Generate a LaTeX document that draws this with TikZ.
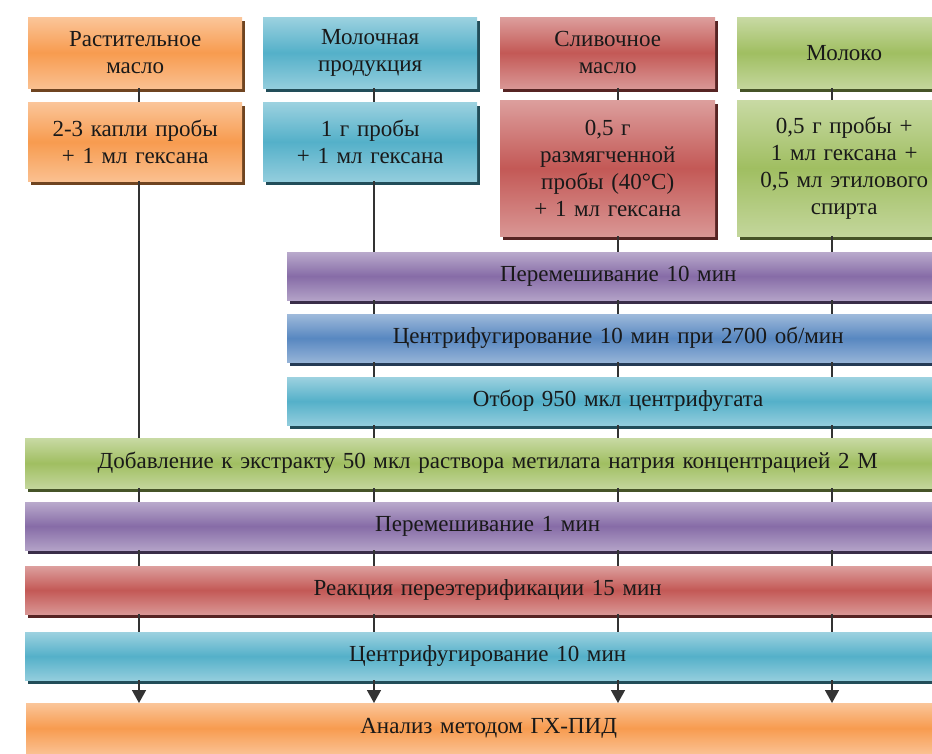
\documentclass[tikz,border=0pt]{standalone}
\usepackage{fontspec}
\setmainfont{Liberation Serif}
\usetikzlibrary{arrows.meta,shadows}
\definecolor{orangeC}{HTML}{F79646}
\definecolor{tealC}{HTML}{4BACC6}
\definecolor{redC}{HTML}{C0504D}
\definecolor{greenC}{HTML}{9BBB59}
\definecolor{purpleC}{HTML}{8064A2}
\definecolor{blueC}{HTML}{4F81BD}
\begin{document}
\begin{tikzpicture}[x=1pt,y=-1pt,>={Triangle[length=13pt,width=14pt]},
 box/.style={anchor=north west,inner sep=0pt,align=center,text=black!90,
 font=\fontsize{23}{27}\selectfont,top color=#1!55,bottom color=#1!60,middle color=#1!95,
 general shadow={fill=#1!45!black,shadow xshift=3pt,shadow yshift=-4pt}},
 bar/.style={box=#1,text width=925pt,minimum height=48pt},
 link/.style={draw=black!80,line width=1.6pt}]
\useasboundingbox (0,0) rectangle (932,754);
\node[box=orangeC,text width=214pt,minimum height=71pt] (veg) at (28,17) {Растительное\\масло};
\node[box=tealC,text width=214pt,minimum height=71pt] (dairy) at (263,17) {Молочная\\продукция};
\node[box=redC,text width=215pt,minimum height=71pt] (butter) at (500,17) {Сливочное\\масло};
\node[box=greenC,text width=214pt,minimum height=71pt] (milk) at (737,17) {Молоко};
\node[box=orangeC,text width=214pt,minimum height=79pt] (vegs) at (28,102) {2-3 капли пробы\\+ 1 мл гексана};
\node[box=tealC,text width=214pt,minimum height=79pt] (dairys) at (263,102) {1 г пробы\\+ 1 мл гексана};
\node[box=redC,text width=215pt,minimum height=136pt] (butters) at (500,100) {0,5 г\\размягченной\\пробы (40°C)\\+ 1 мл гексана};
\node[box=greenC,text width=214pt,minimum height=136pt] (milks) at (737,100) {0,5 г пробы +\\1 мл гексана +\\0,5 мл этилового\\спирта};
\node[bar=purpleC,text width=662pt] (mixa) at (287,252) {Перемешивание 10 мин};
\node[bar=blueC,text width=662pt] (centa) at (287,314) {Центрифугирование 10 мин при 2700 об/мин};
\node[bar=tealC,text width=662pt] (sel) at (287,377) {Отбор 950 мкл центрифугата};
\node[bar=greenC,minimum height=50pt] (add) at (25,438) {Добавление к экстракту 50 мкл раствора метилата натрия концентрацией 2 М};
\node[bar=purpleC] (mixb) at (25,502) {Перемешивание 1 мин};
\node[bar=redC] (react) at (25,566) {Реакция переэтерификации 15 мин};
\node[bar=tealC] (centb) at (25,632) {Центрифугирование 10 мин};
\node[bar=orangeC,minimum height=50pt] (gc) at (26,703) {Анализ методом ГХ-ПИД};
\coordinate (c1) at (139,0);\coordinate (c2) at (374,0);\coordinate (c3) at (618,0);\coordinate (c4) at (832,0);
\draw[link] (c1|-veg.south)--(c1|-vegs.north);\draw[link] (c2|-dairy.south)--(c2|-dairys.north);
\draw[link] (c3|-butter.south)--(c3|-butters.north);\draw[link] (c4|-milk.south)--(c4|-milks.north);
\draw[link] (c1|-vegs.south)--(c1|-add.north);\draw[link] (c2|-dairys.south)--(c2|-mixa.north);
\draw[link] (c3|-butters.south)--(c3|-mixa.north);\draw[link] (c4|-milks.south)--(c4|-mixa.north);
\draw[link] (c2|-mixa.south)--(c2|-centa.north);\draw[link] (c3|-mixa.south)--(c3|-centa.north);\draw[link] (c4|-mixa.south)--(c4|-centa.north);
\draw[link] (c2|-centa.south)--(c2|-sel.north);\draw[link] (c3|-centa.south)--(c3|-sel.north);\draw[link] (c4|-centa.south)--(c4|-sel.north);
\draw[link] (c2|-sel.south)--(c2|-add.north);\draw[link] (c3|-sel.south)--(c3|-add.north);\draw[link] (c4|-sel.south)--(c4|-add.north);
\draw[link] (c1|-add.south)--(c1|-mixb.north);\draw[link] (c2|-add.south)--(c2|-mixb.north);\draw[link] (c3|-add.south)--(c3|-mixb.north);\draw[link] (c4|-add.south)--(c4|-mixb.north);
\draw[link] (c1|-mixb.south)--(c1|-react.north);\draw[link] (c2|-mixb.south)--(c2|-react.north);\draw[link] (c3|-mixb.south)--(c3|-react.north);\draw[link] (c4|-mixb.south)--(c4|-react.north);
\draw[link] (c1|-react.south)--(c1|-centb.north);\draw[link] (c2|-react.south)--(c2|-centb.north);\draw[link] (c3|-react.south)--(c3|-centb.north);\draw[link] (c4|-react.south)--(c4|-centb.north);
\draw[link,->] (c1|-centb.south)--(c1|-gc.north);\draw[link,->] (c2|-centb.south)--(c2|-gc.north);\draw[link,->] (c3|-centb.south)--(c3|-gc.north);\draw[link,->] (c4|-centb.south)--(c4|-gc.north);
\end{tikzpicture}
\end{document}
